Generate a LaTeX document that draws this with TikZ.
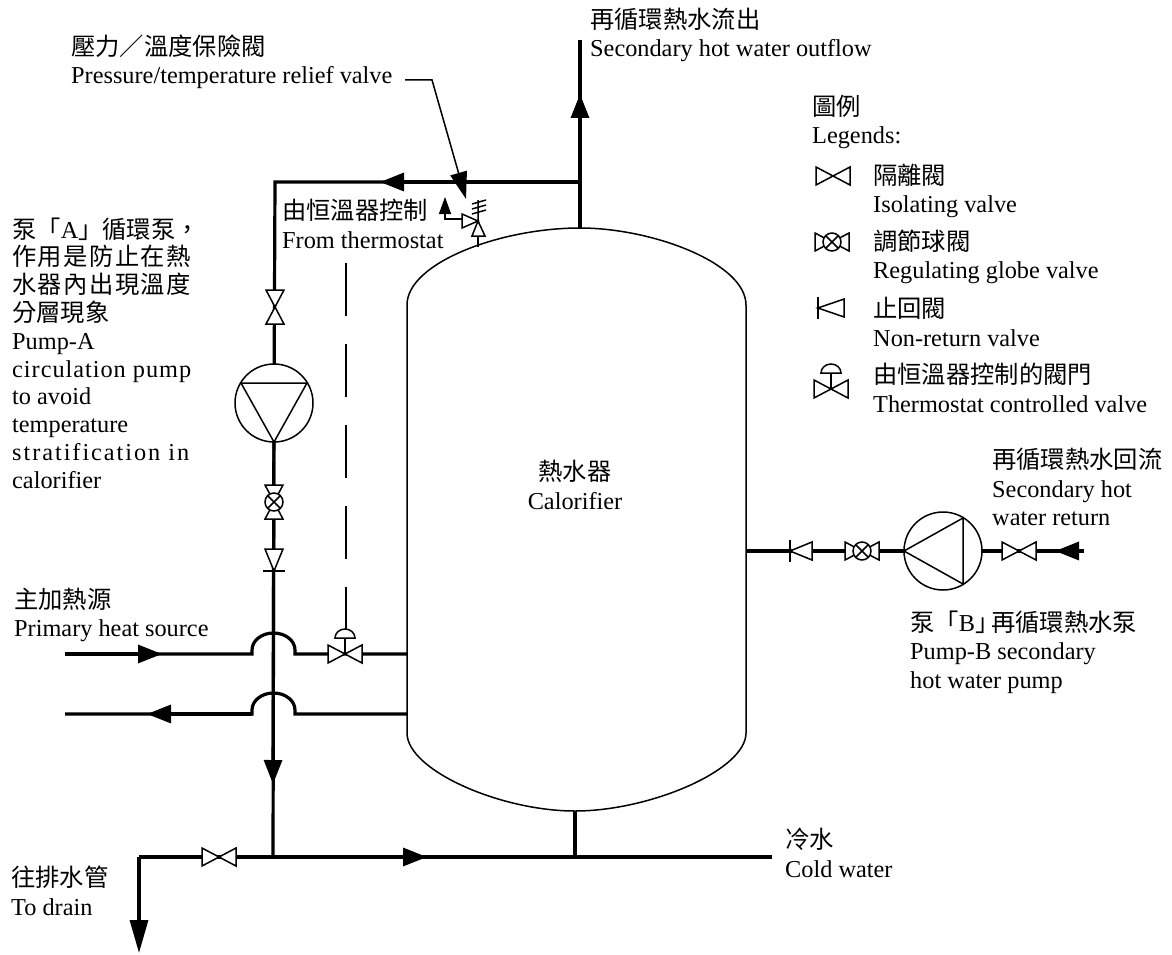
\documentclass[tikz,border=0pt]{standalone}
\usepackage{fontspec}
\setmainfont{Liberation Serif}
\newfontfamily\cjk{Noto Sans CJK TC}
\usetikzlibrary{calc, arrows.meta}

\tikzset{
	pipe/.style={line width=3.2pt},
	thinline/.style={line width=1.5pt},
	flowtip/.style={-{Triangle[length=24, width=18]}},
	note/.style={anchor=west, inner sep=0pt, align=left, font=\fontsize{24.3}{28.5}\selectfont},
	isovalve/.pic={\draw[thinline, fill=white] (-17,-9)--(17,9)--(17,-9)--(-17,9)--cycle;},
	regvalve/.pic={
		\draw[thinline, fill=white] (-17,-9)--(17,9)--(17,-9)--(-17,9)--cycle;
		\draw[thinline, fill=white] (0,0) circle (9);
		\draw[thinline] (-6.4,-6.4)--(6.4,6.4) (-6.4,6.4)--(6.4,-6.4);
	},
	checkvalve/.pic={
		\draw[thinline, fill=white] (-11,0)--(11,-9)--(11,9)--cycle;
		\draw[thinline] (-11,-11)--(-11,11);
	},
	ctrlvalve/.pic={
		\draw[thinline] (0,0)--(0,-16);
		\draw[thinline, fill=white] (-17,-9)--(17,9)--(17,-9)--(-17,9)--cycle;
		\draw[thinline, fill=white] (-10,-16) arc[start angle=180, end angle=360, x radius=10, y radius=9]--cycle;
	},
	pump/.pic={
		\draw[thinline, fill=white] (0,0) circle (39);
		\draw[thinline] (-39,0)--(20,-33)--(20,33)--cycle;
	},
}

\begin{document}
\begin{tikzpicture}[x=1pt, y=-1pt]
	\useasboundingbox (0,0) rectangle (1172,955);
	\coordinate (outtop) at (580,40);
	\coordinate (outtip) at (580,94);
	\coordinate (tee) at (580,182);
	\coordinate (tankin) at (580,228);
	\coordinate (looptip) at (380,182);
	\coordinate (loopcorner) at (275,182);
	\coordinate (pumpA) at (274,403);
	\coordinate (downtip) at (273,784);
	\coordinate (drainjoin) at (273,857);
	\coordinate (draincorner) at (139,857);
	\coordinate (draintip) at (139,953);
	\coordinate (coldtip) at (427,857);
	\coordinate (coldjoin) at (575,857);
	\coordinate (coldend) at (772,857);
	\coordinate (tankbase) at (575,811);
	\coordinate (heatin) at (65,654);
	\coordinate (heatintip) at (162,654);
	\coordinate (heatout) at (65,714);
	\coordinate (heatouttip) at (147,714);
	\coordinate (ctrlA) at (345,654);
	\coordinate (pumpB) at (943,551);
	\coordinate (returnend) at (1084,551);
	\coordinate (returntip) at (1055,551);
	\coordinate (tankside) at (746,551);
	\coordinate (leaderstart) at (405,80);
	\coordinate (leaderbend) at (432,80);
	\coordinate (leadertip) at (466,199);
	\coordinate (relief) at (478,221);

	\draw[thinline] (407,305) .. controls (407,263) and (500,228) .. (tankin) .. controls (652,228) and (746,263) .. (746,305) -- (746,733) .. controls (746,770) and (650,811) .. (tankbase) .. controls (500,811) and (407,770) .. (407,733) -- cycle;

	\draw[pipe] (tankin) -- (outtop);
	\draw[pipe, flowtip] (tee) -- (outtip);
	\draw[pipe] (tee) -- (loopcorner) -- (pumpA) -- (drainjoin);
	\draw[pipe, flowtip] (tee) -- (looptip);
	\draw[pipe, flowtip] (pumpA) -- (downtip);
	\draw[pipe] (draincorner) -- (coldend);
	\draw[pipe, flowtip] (drainjoin) -- (coldtip);
	\draw[pipe] (tankbase) -- (coldjoin);
	\draw[pipe, -{Triangle[length=33, width=18]}] (draincorner) -- (draintip);
	\draw[pipe] (heatin) -- (252,654) -- (252,650) arc[start angle=180, end angle=360, x radius=21.5, y radius=17] -- (295,654) -- (407,654);
	\draw[pipe, flowtip] (heatin) -- (heatintip);
	\draw[pipe] (heatout) -- (252,714) -- (252,710) arc[start angle=180, end angle=360, x radius=21.5, y radius=17] -- (295,714) -- (407,714);
	\draw[pipe, flowtip] (252,714) -- (heatouttip);
	\draw[pipe] (tankside) -- (returnend);
	\draw[pipe, flowtip] (returnend) -- (returntip);

	\draw[thinline, dash pattern=on 53pt off 28pt, dash phase=10pt] (346,630) -- (346,240);
	\draw[thinline, -{Triangle[length=27, width=17]}] (leaderstart) -- (leaderbend) -- (leadertip);

	\pic at (275,307) [rotate=90] {isovalve};
	\pic at (pumpA) [rotate=90] {pump};
	\pic at (274,502) [rotate=90] {regvalve};
	\pic at (274,560) [rotate=90] {checkvalve};
	\pic at (219,857) {isovalve};
	\pic at (ctrlA) {ctrlvalve};
	\pic at (801,551) {checkvalve};
	\pic at (862,551) {regvalve};
	\pic at (pumpB) {pump};
	\pic at (1019,551) {isovalve};

	\draw[thinline] (478,236) -- (478,247);
	\draw[thinline, fill=white] (relief) -- (472,236) -- (485,236) -- cycle;
	\draw[thinline, fill=white] (relief) -- (462,214) -- (462,228) -- cycle;
	\draw[thinline] (relief) -- (478,200) (472,204) -- (486,200) (472,209) -- (486,205) (472,214) -- (486,210);
	\draw[thinline, -{Triangle[length=17, width=12]}] (462,219) -- (445,219) -- (445,197);

	\pic at (833,176) {isovalve};
	\pic at (832,242) {regvalve};
	\pic at (831,308) [xscale=1.2] {checkvalve};
	\pic at (831,389) {ctrlvalve};

	\node[note] (outflow) at (590,35) {{\cjk 再循環熱水流出}\\Secondary hot water outflow};
	\node[note] (reliefnote) at (71,62) {{\cjk 壓力／溫度保險閥}\\Pressure/temperature relief valve};
	\node[note] (legendnote) at (812,122) {{\cjk 圖例}\\Legends:};
	\node[note] (isonote) at (873,191) {{\cjk 隔離閥}\\Isolating valve};
	\node[note] (regnote) at (873,257) {{\cjk 調節球閥}\\Regulating globe valve};
	\node[note] (checknote) at (873,322) {{\cjk 止回閥}\\Non-return valve};
	\node[note] (ctrlnote) at (873,388) {{\cjk 由恒溫器控制的閥門}\\Thermostat controlled valve};
	\node[note, font=\fontsize{24.3}{27.8}\selectfont] (pumpAnote) at (12,353) {{\cjk 泵「}A{\cjk 」循環泵，}\\{\cjk\addfontfeature{LetterSpace=6}作用是防止在熱}\\{\cjk\addfontfeature{LetterSpace=6}水器內出現溫度}\\{\cjk 分層現象}\\Pump-A\\{\addfontfeature{LetterSpace=4}circulation pump}\\to avoid\\temperature\\{\addfontfeature{LetterSpace=8}stratification in}\\calorifier};
	\node[note] (thermonote) at (282,224) {{\cjk 由恒溫器控制}\\From thermostat};
	\node[note, anchor=center, align=center] (tanknote) at (575,485) {{\cjk 熱水器}\\Calorifier};
	\node[note] (returnnote) at (992,487) {{\cjk 再循環熱水回流}\\Secondary hot\\water return};
	\node[note] (pumpBnote) at (910,652) {{\cjk 泵「}B{\cjk 」\hspace*{-8pt}再循環熱水泵}\\Pump-B secondary\\hot water pump};
	\node[note] (heatnote) at (14,615) {{\cjk 主加熱源}\\Primary heat source};
	\node[note] (coldnote) at (785,853) {{\cjk 冷水}\\Cold water};
	\node[note] (drainnote) at (11,891) {{\cjk 往排水管}\\To drain};
\end{tikzpicture}
\end{document}
